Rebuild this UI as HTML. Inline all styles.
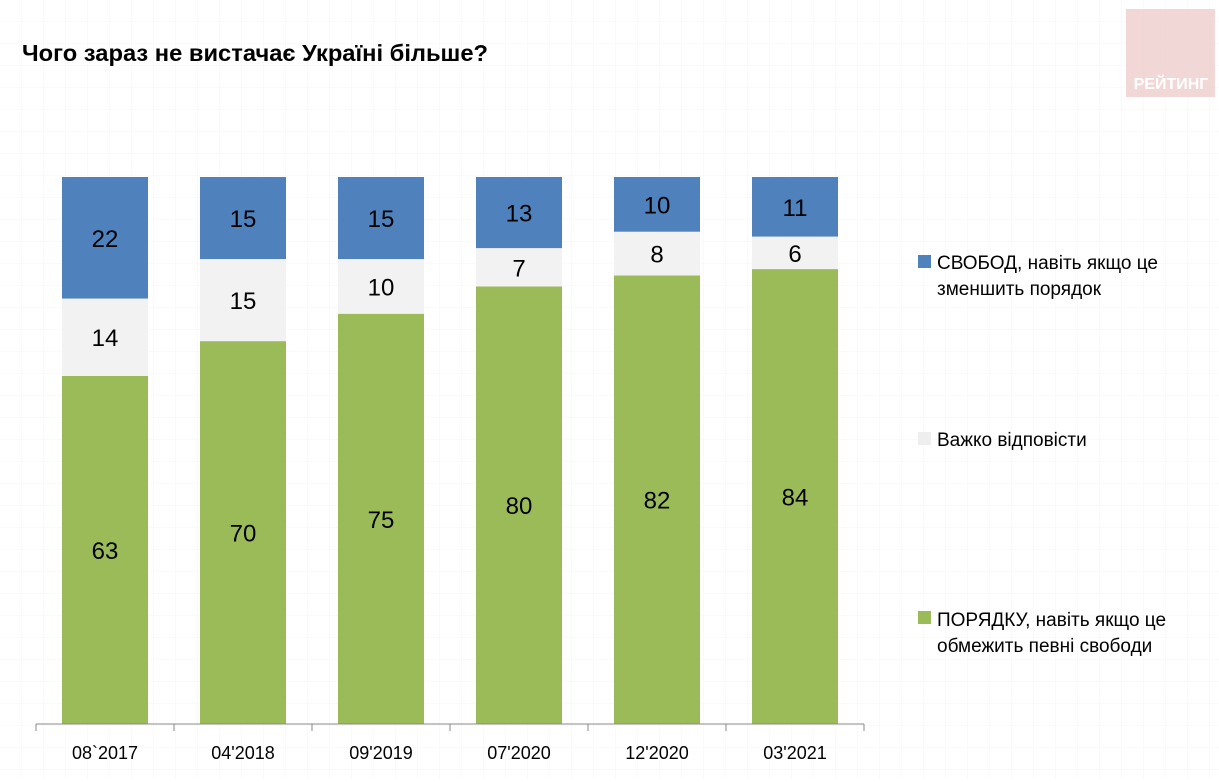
<!DOCTYPE html>
<html><head><meta charset="utf-8"><style>
html,body{margin:0;padding:0;background:#fff;}
svg text{font-family:"Liberation Sans",Arial,sans-serif;}
</style></head><body>
<svg id="chart" width="1219" height="778" viewBox="0 0 1219 778" xmlns="http://www.w3.org/2000/svg">
<defs>
<pattern id="grid" width="22" height="22" patternUnits="userSpaceOnUse">
<path d="M22 0V22M0 22H22" stroke="#f0f0f0" stroke-width="1" fill="none"/>
</pattern>
</defs>
<rect width="1219" height="778" fill="#fff"/>
<rect width="1219" height="778" fill="url(#grid)" opacity="0.6"/>
<text x="22" y="61" font-size="23" font-weight="bold" fill="#000" textLength="466" lengthAdjust="spacingAndGlyphs">Чого зараз не вистачає Україні більше?</text>
<g>
<rect x="1126" y="9" width="89" height="88" fill="#f0d0d0" opacity="0.85"/>
<text x="1171" y="89" font-size="16" font-weight="bold" fill="#fff" text-anchor="middle">РЕЙТИНГ</text>
</g>
<g id="bars"></g>
<g id="axis"></g>
<g>
<g>
<rect x="918" y="255" width="13" height="13" fill="#4f81bd"/>
<text x="937" y="269" font-size="19" fill="#000">СВОБОД, навіть якщо це</text>
<text x="937" y="295" font-size="19" fill="#000">зменшить порядок</text>
</g>
<g>
<rect x="918" y="432" width="13" height="13" fill="#eeeeee"/>
<text x="937" y="446" font-size="19" fill="#000">Важко відповісти</text>
</g>
<g>
<rect x="918" y="611" width="13" height="13" fill="#9bbb59"/>
<text x="937" y="626" font-size="19" fill="#000">ПОРЯДКУ, навіть якщо це</text>
<text x="937" y="652" font-size="19" fill="#000">обмежить певні свободи</text>
</g>
</g>
</svg>
<script>
const categories = ["08`2017","04'2018","09'2019","07'2020","12'2020","03'2021"];
const orderVals = [63,70,75,80,82,84];
const hardVals = [14,15,10,7,8,6];
const freedomVals = [22,15,15,13,10,11];

const NS="http://www.w3.org/2000/svg";
const axisY=724, fullH=547, x0=36, band=138, barW=86;
const xc=i=>x0+band*i+band/2;
const bars=document.getElementById('bars');
const axis=document.getElementById('axis');
function mk(tag,attrs,parent){const e=document.createElementNS(NS,tag);for(const k in attrs)e.setAttribute(k,attrs[k]);parent.appendChild(e);return e;}
const series=[["order",orderVals,"#9bbb59"],["hard-to-say",hardVals,"#f2f2f2"],["freedom",freedomVals,"#4f81bd"]];
categories.forEach((c,i)=>{
  const total=orderVals[i]+hardVals[i]+freedomVals[i];
  const unit=fullH/total;
  const y=v=>axisY-v*unit;
  let base=0;
  series.forEach(([name,vals,col])=>{
    const v=vals[i];
    const r=mk('rect',{x:xc(i)-barW/2,y:y(base+v),width:barW,height:v*unit,fill:col},bars);
    
    
    const t=mk('text',{x:xc(i),y:y(base+v/2)+9,'font-size':'24','text-anchor':'middle',fill:'#000'},bars);
    
    
    t.textContent=v;
    base+=v;
  });
  const lb=mk('text',{x:xc(i),y:759,'font-size':'18','text-anchor':'middle',fill:'#000'},axis);
  
  
  lb.textContent=c;
});
const ln=mk('line',{x1:x0,y1:axisY,x2:x0+band*6,y2:axisY,stroke:'#888','stroke-width':1},axis);


for(let i=0;i<=6;i++){
  const tk=mk('line',{x1:x0+band*i,y1:axisY,x2:x0+band*i,y2:axisY+7,stroke:'#888'},axis);
  
  
}
</script>
</body></html>
